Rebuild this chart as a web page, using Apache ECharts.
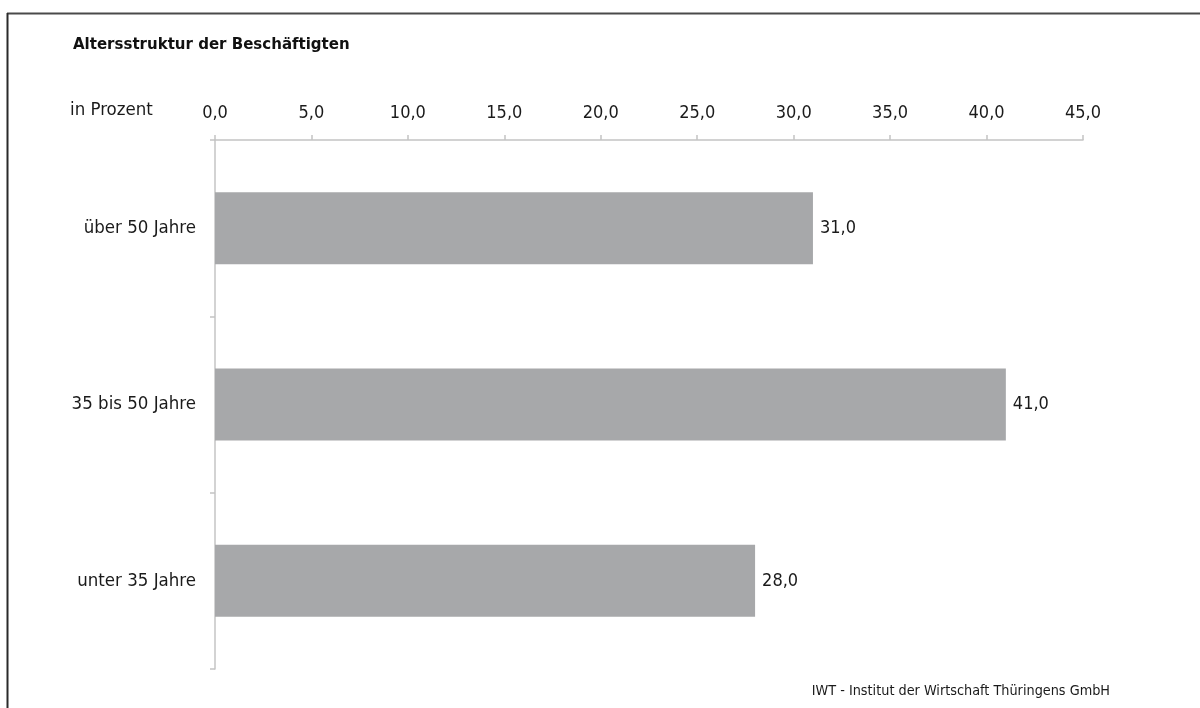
<!DOCTYPE html>
<html><head><meta charset="utf-8">
<script src="https://cdn.jsdelivr.net/npm/echarts@6/dist/echarts.min.js"></script>
<style>html,body{margin:0;padding:0;background:#fff}#c{width:1200px;height:708px}</style>
</head><body><div id="c"></div>
<script>
const categories = ['unter 35 Jahre', '35 bis 50 Jahre', 'über 50 Jahre'];
const values = [28.0, 41.0, 31.0];
const xTicks = [0, 5, 10, 15, 20, 25, 30, 35, 40, 45];
const titleText = 'Altersstruktur der Beschäftigten';
const unitText = 'in Prozent';
const sourceText = 'IWT - Institut der Wirtschaft Thüringens GmbH';

const FONT = '"Liberation Sans Narrow", "DejaVu Sans Condensed", "Roboto", sans-serif';
const fmt = v => v.toFixed(1).replace('.', ',');

const chart = echarts.init(document.getElementById('c'), null, {renderer: 'canvas'});
chart.setOption({
  animation: false,
  backgroundColor: '#fff',
  textStyle: {fontFamily: FONT},
  grid: {left: 215, right: 117, top: 140, bottom: 39, containLabel: false},
  xAxis: {
    type: 'value', position: 'top', min: xTicks[0], max: xTicks[xTicks.length - 1], interval: 5,
    axisLine: {show: true, lineStyle: {color: '#c4c4c4', width: 1.5}},
    axisTick: {show: true, length: 5, lineStyle: {color: '#c4c4c4', width: 1.5}},
    splitLine: {show: false},
    axisLabel: {margin: 18, color: '#1a1a1a', fontSize: 18, fontFamily: FONT, formatter: v => fmt(v)}
  },
  yAxis: {
    type: 'category', data: categories,
    axisLine: {show: true, lineStyle: {color: '#c4c4c4', width: 1.5}},
    axisTick: {show: true, length: 5, lineStyle: {color: '#c4c4c4', width: 1.5}},
    axisLabel: {margin: 19, color: '#1a1a1a', fontSize: 18.5, fontFamily: FONT}
  },
  series: [{
    type: 'bar', data: values, barWidth: 72,
    itemStyle: {color: '#a7a8aa'},
    label: {show: true, position: 'right', distance: 7, color: '#1a1a1a', fontSize: 18, fontFamily: FONT,
      formatter: p => fmt(p.value)}
  }],
  graphic: [
    {type: 'line', shape: {x1: 7, y1: 13.5, x2: 1200, y2: 13.5}, style: {stroke: '#4a4a4a', lineWidth: 2}},
    {type: 'line', shape: {x1: 7.5, y1: 13, x2: 7.5, y2: 708}, style: {stroke: '#2a2a2a', lineWidth: 2}},
    {type: 'text', left: 73, top: 36, style: {text: titleText, fontFamily: FONT, fontWeight: 'bold', fontSize: 16.7, fill: '#111'}},
    {type: 'text', left: 70, top: 101, style: {text: unitText, fontFamily: FONT, fontSize: 18.5, fill: '#1a1a1a'}},
    {type: 'text', right: 90, top: 684, style: {text: sourceText, fontFamily: FONT, fontSize: 14.3, fill: '#1a1a1a'}}
  ]
});
</script></body></html>
